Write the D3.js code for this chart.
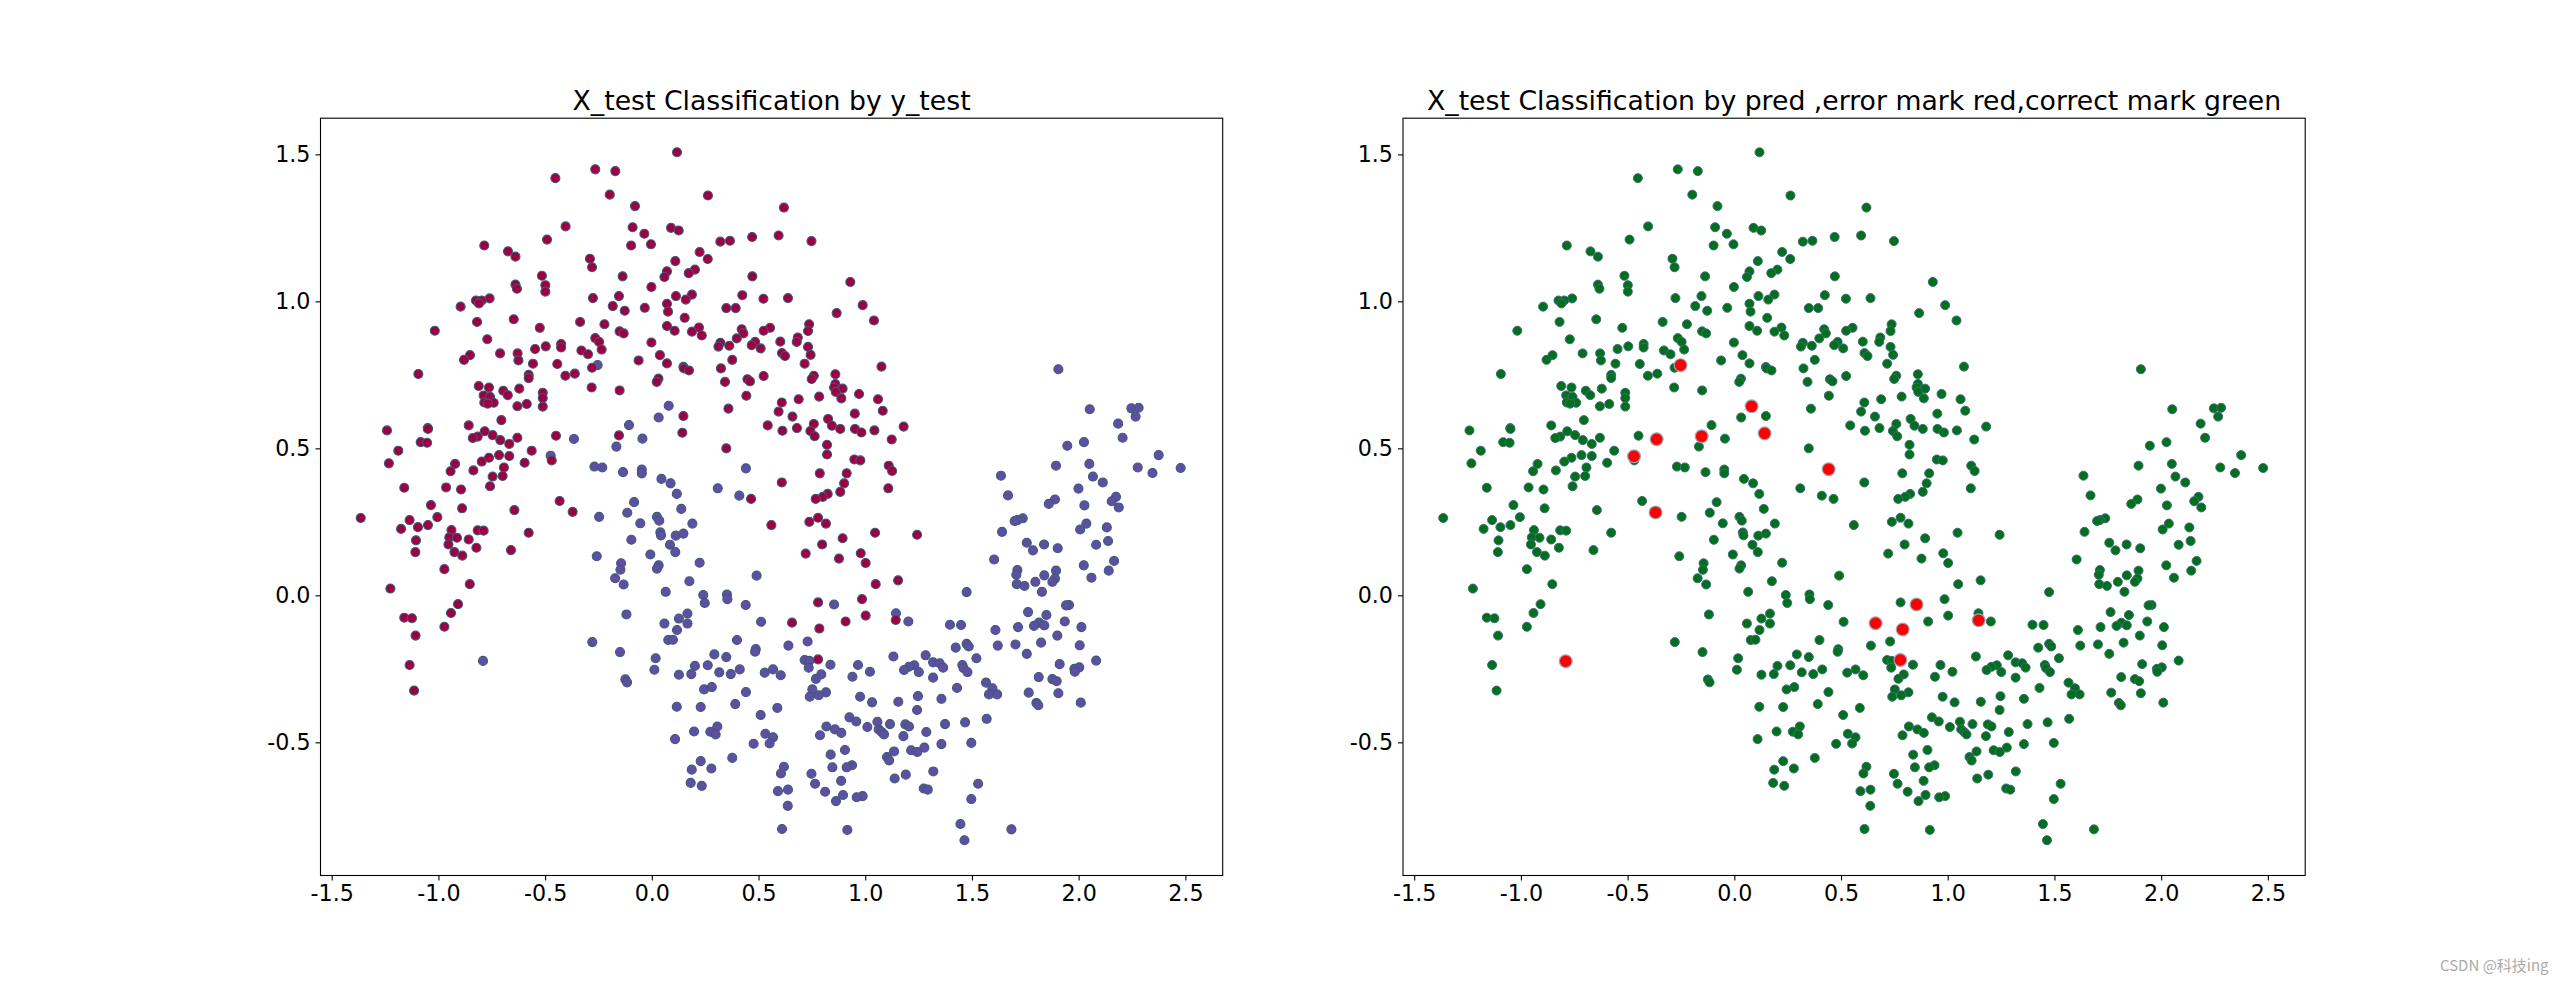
<!DOCTYPE html>
<html>
  <head>
    <meta charset="utf-8" />
    <script src="https://cdn.jsdelivr.net/npm/d3@7"></script>
    <style>
      body { margin: 0; background: #fff; }
      svg { display: block; font-family: "DejaVu Sans", sans-serif; }
    </style>
  </head>
  <body>
    <svg id="chart" width="2560" height="983"></svg>
    <script>
      const xTicks = [-1.5, -1.0, -0.5, 0.0, 0.5, 1.0, 1.5, 2.0, 2.5];
      const xTickLabels = ["-1.5", "-1.0", "-0.5", "0.0", "0.5", "1.0", "1.5", "2.0", "2.5"];
      const yTicks = [-0.5, 0.0, 0.5, 1.0, 1.5];
      const yTickLabels = ["-0.5", "0.0", "0.5", "1.0", "1.5"];
      const xLimits = [-1.5525, 2.675];
      const yLimits = [-0.953, 1.623];

      const leftTitle = "X_test Classification by y_test";
      const rightTitle = "X_test Classification by pred ,error mark red,correct mark green";
      const watermark = "CSDN @科技ing";

      // class 0 (upper moon)
      const class0 = [
        [.118,1.507],[-.265,1.449],[-.171,1.443],[-.452,1.419],[-.197,1.363],[.263,1.360],[-.079,1.324],[-.404,1.255],[-.090,1.252],[.090,1.250],
        [.126,1.241],[-.035,1.230],[.470,1.219],[-.491,1.210],[.321,1.203],[.366,1.206],[-.785,1.190],[-.097,1.190],[-.004,1.194],[-.674,1.170],
        [.224,1.168],[-.639,1.152],[-.290,1.145],[.262,1.144],[.110,1.137],[-.280,1.116],[.202,1.108],[.071,1.102],[.173,1.096],[.059,1.083],
        [-.515,1.087],[-.137,1.085],[.471,1.085],[-.639,1.057],[-.499,1.055],[-.002,1.049],[-.632,1.043],[-.499,1.033],[.188,1.023],[.424,1.021],
        [.113,1.018],[-.154,1.018],[-.276,1.011],[.159,1.006],[-.760,1.010],[-.824,1.003],[-.797,1.003],[-.810,.993],[-.896,.982],[-.183,.984],
        [.071,.992],[-.033,.978],[-.127,.968],[.076,.965],[.349,.977],[.393,.977],[.154,.944],[-.647,.939],[-.819,.930],[-.336,.930],
        [-.222,.922],[-1.017,.900],[-.525,.910],[.071,.916],[.221,.911],[.421,.905],[.107,.900],[.188,.897],[-.151,.898],[-.132,.891],
        [.429,.891],[.234,.884],[.398,.874],[-.265,.875],[-.771,.871],[-.247,.862],[-.002,.860],[.321,.859],[.312,.846],[.484,.862],
        [.468,.851],[.363,.849],[-.425,.855],[-.497,.847],[-.425,.843],[-.547,.838],[-.629,.823],[-.330,.833],[-.235,.836],[-.711,.823],
        [-.299,.820],[-.852,.817],[-.880,.801],[-.625,.799],[.038,.817],[-.062,.799],[.377,.801],[-.557,.788],[-.443,.787],[.071,.789],
        [.148,.777],[.324,.772],[.151,.772],[.174,.765],[-.280,.774],[-1.094,.753],[-.577,.750],[-.405,.747],[-.361,.754],[-.577,.739],
        [.031,.737],[.448,.735],[.023,.726],[.343,.726],[.460,.728],[-.811,.712],[-.763,.707],[-.621,.703],[-.282,.707],[-.151,.697],
        [-.696,.696],[-.675,.681],[-.511,.689],[-.788,.680],[-.758,.675],[.443,.679],[-.511,.671],[-.741,.655],[-.785,.656],[-.769,.652],
        [-.586,.651],[-.630,.643],[-.511,.642],[.359,.635],[.148,.610],[-.705,.596],[-.858,.578],[-1.241,.561],[-1.050,.569],[-1.049,.566],
        [-.783,.558],[-.746,.545],[-.816,.540],[-.839,.535],[.143,.553],[-.449,.543],[-.154,.544],[-.630,.536],[-.710,.528],[-.668,.515],
        [-1.083,.521],[-1.053,.519],[-1.188,.492],[.349,.500],[-.563,.492],[-.716,.477],[-.668,.474],[-.763,.468],[-.797,.455],[-.469,.459],
        [-1.232,.449],[-.922,.447],[-.596,.451],[-.693,.435],[-.943,.422],[-.836,.425],[-.746,.404],[-.699,.406],
        [.619,1.319],[.594,1.224],[.748,1.205],[.930,1.066],[.523,1.009],[.638,1.011],[.988,.987],[.866,.960],[1.041,.935],[.737,.922],
        [.554,.910],[.524,.900],[.732,.899],[.684,.877],[.679,.862],[.602,.863],[.732,.845],[.510,.840],[.744,.818],[.610,.824],
        [.624,.814],[.716,.788],[1.076,.778],[.524,.746],[.860,.752],[.759,.747],[.749,.736],[.860,.719],[.854,.707],[.894,.703],
        [.862,.692],[.888,.670],[.971,.685],[.784,.676],[.688,.667],[1.060,.667],[.609,.656],[1.082,.628],[.594,.625],[.951,.618],
        [.659,.608],[.826,.600],[.543,.578],[.759,.583],[.844,.577],[.612,.560],[.883,.566],[.952,.566],[.982,.554],[1.043,.561],
        [1.180,.574],[.680,.569],[.743,.559],[.763,.541],[1.124,.530],[.821,.512],[.821,.479],[.949,.462],[.977,.459],[1.110,.441],
        [1.126,.423],[.787,.415],[.913,.415],
        [-1.160,.366],[-.964,.367],[-.894,.360],[-.758,.371],[-1.035,.307],[-.889,.296],[-.644,.290],[-.432,.321],[-.371,.284],[-1.364,.263],
        [-1.005,.266],[-1.135,.256],[-1.175,.226],[-1.096,.232],[-1.049,.239],[-.939,.222],[-.816,.221],[-.788,.220],[-.949,.197],[-.913,.196],
        [-.858,.190],[-1.105,.187],[-.953,.173],[-.822,.162],[-.577,.213],[-1.108,.147],[-.925,.147],[-.888,.135],[-.660,.154],[-.972,.089],
        [-.853,.038],[-1.225,.023],[-.908,-.030],[-.941,-.060],[-1.160,-.076],[-1.124,-.078],[-.972,-.107],[-1.107,-.137],[-1.135,-.237],[-1.114,-.324],
        [.465,.328],
        [.609,.384],[.901,.381],[1.108,.364],[.883,.352],[.824,.345],[.801,.335],[.768,.328],[.560,.239],[.738,.250],[.779,.264],
        [.816,.244],[1.046,.213],[1.243,.206],[.894,.194],[.798,.173],[.721,.142],[.979,.143],[1.002,.110],[.877,.125],[1.049,.038],
        [1.154,.051],[.985,-.013],[.779,-.024],[1.002,-.069],[1.143,-.084],[.657,-.093],[.908,-.089],[.785,-.113],[.779,-.218]
      ];

      // class 1 (lower moon)
      const class1 = [
        [-.254,.783],[.079,.645],[.032,.605],[-.107,.579],[-.365,.532],[-.044,.533],[-.166,.506],[-.474,.475],[-.269,.438],[-.232,.435],
        [-.047,.428],[-.047,.415],[-.135,.419],[.441,.432],[.045,.396],
        [1.905,.769],[2.052,.633],[2.247,.636],[2.281,.638],[2.267,.608],[2.185,.584],[2.206,.536],[1.947,.509],[2.025,.521],[2.375,.477],
        [1.894,.441],[2.050,.447],[2.277,.435],[2.346,.416],[2.478,.433],[1.636,.407],[2.067,.404],
        [-.791,-.223],[.088,.381],[.117,.345],[.309,.364],[.410,.339],[-.083,.317],[-.115,.281],[.138,.294],[-.247,.267],[.024,.267],
        [.035,.254],[.190,.244],[-.054,.245],[.040,.214],[.043,.204],[.112,.203],[.148,.210],[-.096,.189],[.085,.172],[-.007,.139],
        [.110,.147],[-.258,.133],[-.144,.109],[.032,.102],[.024,.091],[-.147,.087],[.224,.111],[-.172,.058],[-.132,.037],[.176,.048],
        [.065,.012],[.491,.067],[.241,.001],[.352,.003],[.354,-.013],[.248,-.026],[.440,-.033],[-.119,-.065],[.167,-.062],[.127,-.079],
        [.059,-.096],[.167,-.096],[.118,-.118],[.077,-.152],[.099,-.151],[.399,-.152],[-.279,-.159],[.487,-.183],[.484,-.192],[-.149,-.193],
        [.018,-.214],[.293,-.201],[.349,-.210],[.202,-.240],[.262,-.238],[.012,-.253],[.127,-.270],[.185,-.268],[.316,-.262],[.370,-.268],
        [.412,-.252],[-.124,-.286],[-.116,-.296],[.281,-.312],[.245,-.320],[.441,-.329],[.117,-.379],[.229,-.380],[.391,-.370],[.307,-.446],
        [.274,-.464],[.299,-.473],[.198,-.463],[.477,-.505],[.109,-.489],[.377,-.553],[.229,-.564],[.279,-.589],[.187,-.593],[.182,-.638],
        [.234,-.648],
        [2.113,.384],[1.999,.363],[1.669,.340],[1.889,.326],[1.860,.311],[2.027,.306],[2.175,.335],[2.155,.320],[2.188,.299],[1.738,.262],
        [1.713,.256],[1.700,.253],[1.641,.216],[2.036,.244],[2.007,.224],[2.132,.231],[1.757,.179],[1.786,.153],[1.838,.173],[1.902,.160],
        [2.082,.172],[2.138,.185],[1.604,.122],[2.166,.117],[1.713,.086],[1.708,.070],[2.024,.102],[2.141,.084],[2.060,.060],[1.894,.084],
        [1.839,.068],[1.889,.057],[1.877,.046],[1.797,.046],[1.710,.038],[1.746,.032],[1.828,.012],[1.475,.011],[.854,-.031],[1.955,-.033],
        [1.941,-.034],[1.763,-.057],[1.849,-.067],[1.144,-.061],[1.202,-.089],[.512,-.090],[1.397,-.100],[1.449,-.101],[1.814,-.093],[1.791,-.104],
        [1.839,-.102],[1.935,-.089],[1.716,-.108],[2.013,-.108],[1.610,-.118],[1.900,-.137],[.730,-.157],[.640,-.171],[1.824,-.161],[1.475,-.165],
        [1.485,-.174],[1.424,-.178],[1.621,-.171],[1.704,-.167],[2.005,-.170],[1.757,-.199],[1.132,-.208],[1.283,-.204],[1.521,-.214],[.716,-.220],
        [.738,-.223],[1.318,-.228],[1.349,-.231],[1.365,-.246],[1.230,-.238],[1.205,-.243],[1.182,-.254],[1.251,-.261],[1.455,-.237],[1.461,-.248],
        [1.479,-.261],[.735,-.246],[.837,-.236],[.966,-.237],[.794,-.269],[.769,-.284],[1.022,-.260],[.940,-.277],[1.318,-.280],[.529,-.263],
        [.568,-.252],[.604,-.272],[1.911,-.234],[2.003,-.245],[1.980,-.250],[1.982,-.260],[2.082,-.222],[1.813,-.278],[1.877,-.285],[1.897,-.292],
        [1.566,-.297],[1.596,-.316],[1.618,-.337],[1.580,-.337],[1.430,-.315],[.752,-.320],[.816,-.330],[.782,-.340],[.740,-.345],[.976,-.345],
        [1.247,-.343],[1.357,-.352],[1.155,-.362],[1.032,-.364],[1.766,-.331],[1.905,-.333],[1.802,-.366],[1.811,-.374],[2.010,-.365],[1.243,-.390],
        [.588,-.383],[.510,-.407],[.926,-.415],[1.569,-.420],[.958,-.429],[1.057,-.430],[1.468,-.432],[1.374,-.438],[1.116,-.438],[1.188,-.439],
        [1.205,-.446],[.818,-.446],[.858,-.456],[1.010,-.448],[1.063,-.456],[1.077,-.465],[1.088,-.473],[.888,-.468],[1.286,-.465],[.788,-.476],
        [1.179,-.479],[.532,-.471],[.568,-.483],[.552,-.504],[1.357,-.506],[1.497,-.502],[1.277,-.518],[1.135,-.531],[1.215,-.527],[1.244,-.533],
        [.905,-.526],[.838,-.542],[1.102,-.550],[1.112,-.562],[.938,-.578],[.913,-.585],[.846,-.585],[.619,-.583],[.605,-.606],[.748,-.607],
        [1.190,-.610],[1.138,-.623],[1.319,-.599],[.887,-.631],[.765,-.641],[1.529,-.641],[.812,-.668],[1.274,-.657],[1.293,-.661],[.591,-.666],
        [.638,-.661],[.896,-.679],[.988,-.683],[.960,-.687],[.863,-.700],[.637,-.716],[1.497,-.693],[.610,-.795],[.916,-.798],[1.446,-.778],
        [1.685,-.796],[1.465,-.833]
      ];

      // misclassified points, red in the right panel
      const errors = [
        [-.252,.783],[-.153,.541],[-.364,.531],[-.470,.473],[-.369,.282],[-.790,-.224],[.081,.643],
        [.142,.551],[.442,.429],[.854,-.031],[.662,-.095],[.789,-.116],[1.145,-.085],[.778,-.220]
      ];

      const svg = d3.select("#chart");
      const panelWidth = 902.2;
      const panelTop = 118.2;
      const panelHeight = 757.3;

      function addPoints(g, x, y, data, fill, edge, r, edgeWidth) {
        g.append("g")
          .selectAll("circle")
          .data(data)
          .enter()
          .append("circle")
          .attr("cx", (d) => x(d[0]))
          .attr("cy", (d) => y(d[1]))
          .attr("r", r)
          .attr("fill", fill)
          .attr("stroke", edge)
          .attr("stroke-width", edgeWidth);
      }

      function drawPanel(left, title) {
        const g = svg.append("g").attr("transform", "translate(" + left + "," + panelTop + ")");
        const x = d3.scaleLinear().domain(xLimits).range([0, panelWidth]);
        const y = d3.scaleLinear().domain(yLimits).range([panelHeight, 0]);

        const xAxis = d3.axisBottom(x)
          .tickValues(xTicks)
          .tickFormat((d, i) => xTickLabels[i])
          .tickSize(5)
          .tickPadding(5)
          .tickSizeOuter(0);
        const yAxis = d3.axisLeft(y)
          .tickValues(yTicks)
          .tickFormat((d, i) => yTickLabels[i])
          .tickSize(5)
          .tickPadding(5)
          .tickSizeOuter(0);

        const xg = g.append("g").attr("transform", "translate(0," + panelHeight + ")").call(xAxis);
        const yg = g.append("g").call(yAxis);
        xg.select(".domain").remove();
        yg.select(".domain").remove();
        [xg, yg].forEach((a) => {
          a.selectAll("text").attr("font-size", 22.2).attr("font-family", "DejaVu Sans").attr("fill", "#000");
          a.selectAll("line").attr("stroke", "#000").attr("stroke-width", 1.1);
        });

        g.append("text")
          .attr("x", panelWidth / 2)
          .attr("y", -8.5)
          .attr("text-anchor", "middle")
          .attr("font-size", 26.7)
          .attr("fill", "#000")
          .text(title);

        g.append("rect")
          .attr("width", panelWidth)
          .attr("height", panelHeight)
          .attr("fill", "none")
          .attr("stroke", "#000")
          .attr("stroke-width", 1.1);

        return { g, x, y };
      }

      // left: true labels
      const leftPanel = drawPanel(320.5, leftTitle);
      addPoints(leftPanel.g, leftPanel.x, leftPanel.y, class1, "#5e4fa2", "#3d5a78", 4.5, 1.1);
      addPoints(leftPanel.g, leftPanel.x, leftPanel.y, class0, "#9e0142", "#3d5a78", 4.5, 1.1);

      // right: everything green, errors on top in red
      const rightPanel = drawPanel(1403, rightTitle);
      addPoints(rightPanel.g, rightPanel.x, rightPanel.y, class0.concat(class1), "#00701c", "#3f6a78", 4.5, 1);
      addPoints(rightPanel.g, rightPanel.x, rightPanel.y, errors, "#ff0000", "#98a8ba", 6.4, 1.2);

      svg.append("text")
        .attr("x", 2440)
        .attr("y", 971)
        .attr("font-family", "'Noto Sans CJK SC', 'Noto Sans', sans-serif")
        .attr("font-size", 15)
        .attr("fill", "#aaaaaa")
        .text(watermark);
    </script>
  </body>
</html>
